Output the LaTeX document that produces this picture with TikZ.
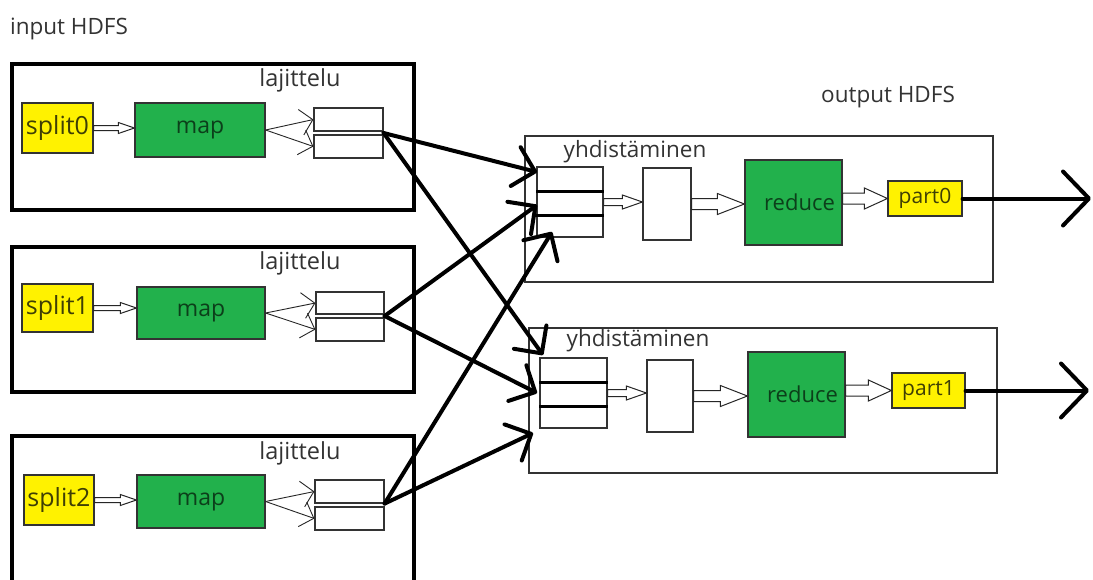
\documentclass[tikz,border=0pt]{standalone}
\usepackage{fontspec}
\setmainfont{Open Sans}
\usetikzlibrary{arrows.meta,calc}
\definecolor{hiyellow}{HTML}{FFF200}
\definecolor{higreen}{HTML}{22B14C}
\definecolor{yellowtext}{HTML}{3F3F05}
\definecolor{greentext}{HTML}{0C3F1A}
\definecolor{labelgray}{HTML}{333333}
\tikzset{
  lbl/.style={text=labelgray, font=\fontsize{22.5}{26}\selectfont, inner sep=0pt},
  sortlbl/.style={lbl, font=\fontsize{23.5}{27}\selectfont},
  splitbox/.style={draw=black!80, line width=1.2pt, fill=hiyellow, text=yellowtext,
    font=\fontsize{25}{29}\selectfont, inner sep=0pt},
  partbox/.style={draw=black!80, line width=1.2pt, fill=hiyellow, text=yellowtext,
    font=\fontsize{21}{25}\selectfont, inner sep=0pt},
  mapbox/.style={draw=black!80, line width=1.2pt, fill=higreen, text=greentext,
    font=\fontsize{23}{27}\selectfont, inner sep=0pt},
  reducebox/.style={mapbox, font=\fontsize{22}{26}\selectfont},
  cell/.style={draw=black!80, line width=1.2pt, fill=white, inner sep=0pt},
  jobbox/.style={draw=black, line width=4pt, inner sep=0pt},
  mergebox/.style={draw=black!80, line width=1.3pt, inner sep=0pt},
  divider/.style={line width=3pt},
  flow/.style={line width=4pt, line cap=round, -{Straight Barb[length=20pt,width=40pt,round]}},
  outflow/.style={line width=4pt, line cap=round, -{Straight Barb[length=26pt,width=54pt,round]}},
  sortarrow/.style={line width=0.9pt, draw=black!85, -{Straight Barb[length=12pt,width=26pt]}},
  % horizontal block arrow: shaft half-height, head half-height, head length
  hollow/.style n args={3}{fill=white, draw=black!85, line width=1pt, line join=miter,
    to path={let \p1=(\tikztostart), \p2=(\tikztotarget) in
      (\x1,\y1+#1) -- (\x2-#3,\y1+#1) -- (\x2-#3,\y1+#2) -- (\x2,\y1)
      -- (\x2-#3,\y1-#2) -- (\x2-#3,\y1-#1) -- (\x1,\y1-#1) -- cycle}},
}
\begin{document}
\begin{tikzpicture}[x=1pt,y=-1pt]
\clip (0,0) rectangle (1093,579);
\fill[white] (0,0) rectangle (1093,579);

% titles
\node[lbl] (inhdfs) at (69,29) {input HDFS};
\node[lbl] (outhdfs) at (888,97) {output HDFS};

% ---- map side: three jobs ----
\node[jobbox, minimum width=402pt, minimum height=146pt] (job0) at (213,137) {};
\node[jobbox, minimum width=402pt, minimum height=145pt] (job1) at (213,319.5) {};
\node[jobbox, minimum width=402pt, minimum height=170pt] (job2) at (213,521) {};

\node[sortlbl] (sort0) at (300,80) {lajittelu};
\node[sortlbl] (sort1) at (300,263) {lajittelu};
\node[sortlbl] (sort2) at (300,453) {lajittelu};

\node[splitbox, minimum width=71pt, minimum height=50pt] (sp0) at (57.5,128) {split0};
\node[splitbox, minimum width=71pt, minimum height=48pt] (sp1) at (57.5,308) {split1};
\node[splitbox, minimum width=70pt, minimum height=50pt] (sp2) at (59,500) {split2};

\node[mapbox, minimum width=130pt, minimum height=54pt] (m0) at (200,130) {map};
\node[mapbox, minimum width=128pt, minimum height=52pt] (m1) at (201,313) {map};
\node[mapbox, minimum width=128pt, minimum height=53pt] (m2) at (201,501.5) {map};

\node[cell, minimum width=69pt, minimum height=23pt] (l0a) at (348.5,119.5) {};
\node[cell, minimum width=69pt, minimum height=23pt] (l0b) at (348.5,146.5) {};
\node[cell, minimum width=68pt, minimum height=22pt] (l1a) at (350,303) {};
\node[cell, minimum width=68pt, minimum height=23pt] (l1b) at (350,329.5) {};
\node[cell, minimum width=69pt, minimum height=23pt] (l2a) at (349.5,491.5) {};
\node[cell, minimum width=69pt, minimum height=23pt] (l2b) at (349.5,518.5) {};

\draw[hollow={2.5pt}{5.5pt}{16pt}] (sp0.east) to (sp0.east -| m0.west);
\draw[hollow={2.5pt}{5.5pt}{16pt}] (sp1.east) to (sp1.east -| m1.west);
\draw[hollow={2.5pt}{5.5pt}{16pt}] (sp2.east) to (sp2.east -| m2.west);

\draw[sortarrow] (m0.east) -- (l0a.west);
\draw[sortarrow] (m0.east) -- (l0b.west);
\draw[sortarrow] (m1.east) -- (l1a.west);
\draw[sortarrow] (m1.east) -- (l1b.west);
\draw[sortarrow] (m2.east) -- (l2a.west);
\draw[sortarrow] (m2.east) -- (l2b.west);

% ---- reduce side ----
\node[mergebox, minimum width=468pt, minimum height=146pt] (red0) at (759,209) {};
\node[mergebox, minimum width=468pt, minimum height=145pt] (red1) at (763,400.5) {};

\node[lbl] (merge0) at (635,152) {yhdistäminen};
\node[lbl] (merge1) at (638,341) {yhdistäminen};

\node[cell, minimum width=66pt, minimum height=70pt] (st0) at (570,202) {};
\draw[divider] (st0.west |- 0,191) -- (st0.east |- 0,191);
\draw[divider] (st0.west |- 0,215) -- (st0.east |- 0,215);
\node[cell, minimum width=67pt, minimum height=70pt] (st1) at (573.5,393) {};
\draw[divider] (st1.west |- 0,382) -- (st1.east |- 0,382);
\draw[divider] (st1.west |- 0,406) -- (st1.east |- 0,406);

\node[cell, minimum width=48pt, minimum height=72pt] (i0) at (667,204) {};
\node[cell, minimum width=46pt, minimum height=72pt] (i1) at (670,396) {};

\node[reducebox, minimum width=97pt, minimum height=85pt] (r0) at (793.5,202.5) {\hspace*{12pt}reduce};
\node[reducebox, minimum width=97pt, minimum height=85pt] (r1) at (796.5,394.5) {\hspace*{12pt}reduce};

\node[partbox, minimum width=74pt, minimum height=35pt] (p0) at (925,198.5) {part0};
\node[partbox, minimum width=73pt, minimum height=35pt] (p1) at (928.5,390.5) {part1};

\draw[hollow={3.5pt}{7pt}{20pt}] (st0.east) to (st0.east -| i0.west);
\draw[hollow={3.5pt}{7pt}{20pt}] (st1.east) to (st1.east -| i1.west);
\draw[hollow={5.5pt}{10.5pt}{27pt}] (i0.east) to (i0.east -| r0.west);
\draw[hollow={5.5pt}{10.5pt}{27pt}] (i1.east) to (i1.east -| r1.west);
\draw[hollow={5.5pt}{10.5pt}{23pt}] (r0.east |- p0.east) to (p0.west);
\draw[hollow={5.5pt}{10.5pt}{23pt}] (r1.east |- p1.east) to (p1.west);

% output to HDFS
\coordinate (out0) at (1091,198.5);
\coordinate (out1) at (1089,390.5);
\draw[outflow] (p0.east) -- (out0);
\draw[outflow] (p1.east) -- (out1);

% shuffle: every sorted output goes to both reducers
\coordinate (o0) at ($(l0a.south east)!.5!(l0b.north east)$);
\coordinate (o1) at ($(l1a.south east)!.5!(l1b.north east)$);
\coordinate (o2) at (l2a.south east);
\coordinate (t00) at (537,172);
\coordinate (t10) at (537,205);
\coordinate (t20) at (552,232);
\coordinate (t01) at (543,355);
\coordinate (t11) at (537,393);
\coordinate (t21) at (533,433);
\draw[flow] (o0) -- (t00);
\draw[flow] (o0) -- (t01);
\draw[flow] (o1) -- (t10);
\draw[flow] (o1) -- (t11);
\draw[flow] (o2) -- (t20);
\draw[flow] (o2) -- (t21);
\end{tikzpicture}
\end{document}
